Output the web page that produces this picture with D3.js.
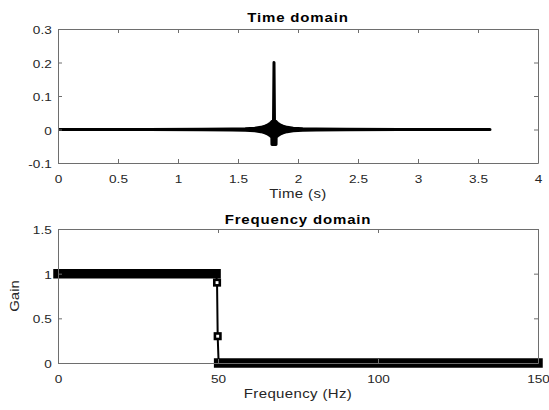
<!DOCTYPE html>
<html>
<head>
<meta charset="utf-8">
<script src="https://cdn.jsdelivr.net/npm/d3@7"></script>
<style>
  html, body { margin: 0; padding: 0; background: #fff; }
  svg { display: block; }
</style>
</head>
<body>
<script>
// Time domain: signal envelope (upper / lower edge of the dense trace)
const timeSec = [0, 0.75, 1.2, 1.45, 1.56, 1.64, 1.69, 1.725, 1.75, 1.77, 1.782, 1.783, 1.796, 1.8, 1.804, 1.817, 1.818, 1.83, 1.85, 1.875, 1.91, 1.96, 2.04, 2.15, 2.4, 2.85, 3.6];
const timeHi = [0, 0, 0.0007, 0.0014, 0.0025, 0.004, 0.0065, 0.01, 0.014, 0.019, 0.023, 0.024, 0.027, 0.2, 0.027, 0.024, 0.023, 0.019, 0.014, 0.01, 0.0065, 0.004, 0.0025, 0.0014, 0.0007, 0, 0];
const timeLo = [0, 0, -0.0007, -0.0014, -0.0025, -0.004, -0.0065, -0.01, -0.014, -0.019, -0.023, -0.045, -0.045, -0.045, -0.045, -0.045, -0.023, -0.019, -0.014, -0.01, -0.0065, -0.004, -0.0025, -0.0014, -0.0007, 0, 0];

// Frequency domain: dense pass band, two transition samples, dense stop band
const passHz = [0, 49.4];
const passGain = [1, 1];
const transHz = [49.7, 49.9];
const transGain = [0.9, 0.3];
const stopHz = [50.2, 150];
const stopGain = [0, 0];

// Ticks
const timeXTicks = [0, 0.5, 1, 1.5, 2, 2.5, 3, 3.5, 4];
const timeXLabels = ["0", "0.5", "1", "1.5", "2", "2.5", "3", "3.5", "4"];
const timeYTicks = [-0.1, 0, 0.1, 0.2, 0.3];
const timeYLabels = ["-0.1", "0", "0.1", "0.2", "0.3"];
const freqXTicks = [0, 50, 100, 150];
const freqXLabels = ["0", "50", "100", "150"];
const freqYTicks = [0, 0.5, 1, 1.5];
const freqYLabels = ["0", "0.5", "1", "1.5"];

const width = 549;
const height = 410;
const font = "'Liberation Sans', Arial, sans-serif";
const axisColor = "#6e6e6e";
const textColor = "#262626";
const sx = 1.2; // the figure's glyphs are wide

const svg = d3
  .select("body")
  .append("svg")
  .attr("width", width)
  .attr("height", height);

// Scales
const xTime = d3.scaleLinear().domain([0, 4]).range([58, 538]);
const yTime = d3.scaleLinear().domain([-0.1, 0.3]).range([163, 29]);
const xFreq = d3.scaleLinear().domain([0, 150]).range([58, 538]);
const yFreq = d3.scaleLinear().domain([0, 1.5]).range([363, 229]);

// Draw a MATLAB style box with inward ticks on all sides
function drawBox(x, y, xTicks, xLabels, yTicks, yLabels) {
  const [x0, x1] = x.range();
  const [y0, y1] = y.range();

  const bottom = svg
    .append("g")
    .attr("transform", `translate(0, ${y0})`)
    .call(
      d3.axisBottom(x)
        .tickValues(xTicks)
        .tickFormat((d, i) => xLabels[i])
        .tickSizeInner(-4)
        .tickSizeOuter(0)
        .tickPadding(11.5)
    );
  const top = svg
    .append("g")
    .attr("transform", `translate(0, ${y1})`)
    .call(d3.axisTop(x).tickValues(xTicks).tickFormat("").tickSizeInner(-4).tickSizeOuter(0));
  const left = svg
    .append("g")
    .attr("transform", `translate(${x0}, 0)`)
    .call(
      d3.axisLeft(y)
        .tickValues(yTicks)
        .tickFormat((d, i) => yLabels[i])
        .tickSizeInner(-4)
        .tickSizeOuter(0)
        .tickPadding(6.3 / sx)
    );
  const right = svg
    .append("g")
    .attr("transform", `translate(${x1}, 0)`)
    .call(d3.axisRight(y).tickValues(yTicks).tickFormat("").tickSizeInner(-4).tickSizeOuter(0));

  [bottom, top, left, right].forEach((g) => {
    g.selectAll("path, line").attr("stroke", axisColor);
  });
  [bottom, left].forEach((g) => {
    g.selectAll("text")
      .attr("font-family", font)
      .attr("font-size", "11.3px")
      .attr("transform", `scale(${sx}, 1)`)
      .attr("fill", textColor);
  });
  left.selectAll("text").attr("dy", "0.4em");
}

function addText(str, x, y, size, weight, ls, rotate) {
  svg
    .append("text")
    .attr("transform", `translate(${x}, ${y})${rotate ? " rotate(-90)" : ""} scale(${sx}, 1)`)
    .attr("text-anchor", "middle")
    .attr("font-family", font)
    .attr("font-size", size)
    .attr("font-weight", weight)
    .attr("letter-spacing", ls)
    .attr("fill", weight === "bold" ? "#000" : textColor)
    .text(str);
}

// ---- Time domain ----
svg
  .append("clipPath")
  .attr("id", "clipTime")
  .append("rect")
  .attr("x", 58)
  .attr("y", 29)
  .attr("width", 480)
  .attr("height", 134);

const timeArea = d3
  .area()
  .x((d, i) => xTime(timeSec[i]))
  .y0((d, i) => yTime(timeLo[i]))
  .y1((d, i) => yTime(timeHi[i]));

svg
  .append("path")
  .attr("clip-path", "url(#clipTime)")
  .attr("d", timeArea(timeSec))
  .attr("fill", "#000")
  .attr("stroke", "#000")
  .attr("stroke-width", 3)
  .attr("stroke-linejoin", "round");

drawBox(xTime, yTime, timeXTicks, timeXLabels, timeYTicks, timeYLabels);
addText("Time domain", 298, 21.5, "12.5px", "bold", 0.7, false);
addText("Time (s)", 298, 197.5, "12.5px", "normal", 0.3, false);

// ---- Frequency domain ----
const freqPts = [
  ...passHz.map((f, i) => [f, passGain[i]]),
  ...transHz.map((f, i) => [f, transGain[i]]),
  ...stopHz.map((f, i) => [f, stopGain[i]]),
];
const freqLine = d3
  .line()
  .x((d) => xFreq(d[0]))
  .y((d) => yFreq(d[1]));

// Connecting line
svg
  .append("path")
  .attr("d", freqLine(freqPts))
  .attr("fill", "none")
  .attr("stroke", "#000")
  .attr("stroke-width", 2);

// Dense marker runs appear as solid bars
[
  passHz.map((f, i) => [f, passGain[i]]),
  stopHz.map((f, i) => [f, stopGain[i]]),
].forEach((run) => {
  svg
    .append("path")
    .attr("d", freqLine(run))
    .attr("fill", "none")
    .attr("stroke", "#000")
    .attr("stroke-width", 9.5)
    .attr("stroke-linecap", "square");
});

// Square markers on the transition samples
svg
  .append("g")
  .selectAll("rect")
  .data(transHz)
  .join("rect")
  .attr("x", (d) => xFreq(d) - 2.75)
  .attr("y", (d, i) => yFreq(transGain[i]) - 2.75)
  .attr("width", 5.5)
  .attr("height", 5.5)
  .attr("fill", "#fff")
  .attr("stroke", "#000")
  .attr("stroke-width", 2.6);

drawBox(xFreq, yFreq, freqXTicks, freqXLabels, freqYTicks, freqYLabels);
addText("Frequency domain", 298, 223.5, "12.5px", "bold", 0.7, false);
addText("Frequency (Hz)", 298, 397.5, "12.5px", "normal", 0.3, false);
addText("Gain", 18.5, 296, "12.5px", "normal", 0, true);
</script>
</body>
</html>
